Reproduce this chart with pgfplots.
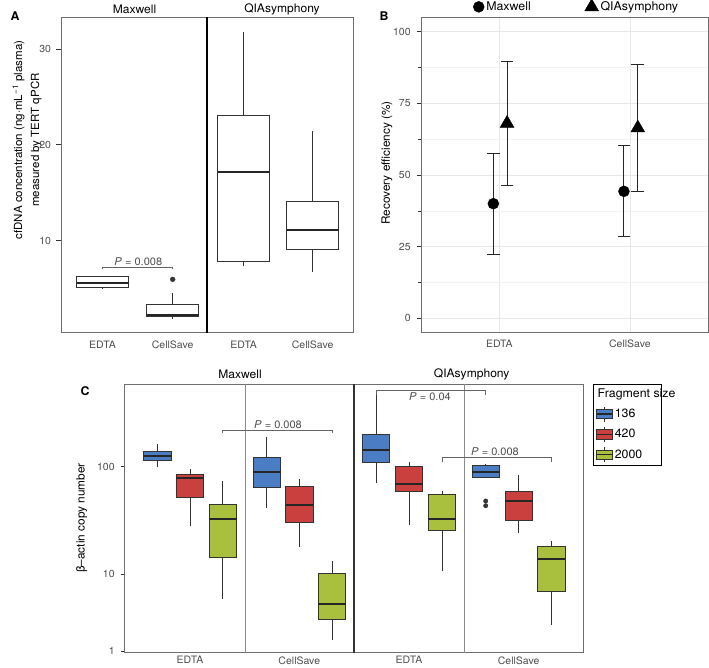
\documentclass[border=0pt]{standalone}
\usepackage{fontspec}
\setmainfont{TeX Gyre Heros}[FakeStretch=1.03]
\usepackage{pgfplots}
\pgfplotsset{compat=1.18}
\definecolor{c136}{RGB}{74,125,196}
\definecolor{c420}{RGB}{201,64,62}
\definecolor{c2000}{RGB}{168,192,62}
\definecolor{framec}{RGB}{110,110,110}
\definecolor{boxline}{RGB}{51,51,51}
\definecolor{ticktext}{RGB}{77,77,77}
\definecolor{brk}{RGB}{100,100,100}

% color, x left, x right, x centre, lower whisker, Q1, median, Q3, upper whisker
\newcommand{\ggbox}[9]{%
 \addplot[forget plot, draw=boxline, line width=0.8pt] coordinates {(#4,#6) (#4,#5)};
 \addplot[forget plot, draw=boxline, line width=0.8pt] coordinates {(#4,#8) (#4,#9)};
 \addplot[forget plot, draw=boxline, fill=#1, line width=0.8pt] coordinates {(#2,#6) (#3,#6) (#3,#8) (#2,#8)} -- cycle;
 \addplot[forget plot, draw=black!85, line width=1.9pt] coordinates {(#2,#7) (#3,#7)};
}
\newcommand{\keyimage}[1]{%
 \addlegendimage{legend image code/.code={%
  \draw[fill=#1, draw=boxline, line width=0.8pt] (0pt,-4.7pt) rectangle (15.7pt,4.7pt);
  \draw[black!85, line width=1.3pt] (0pt,0pt) -- (15.7pt,0pt);
  \draw[boxline, line width=0.8pt] (7.85pt,4.7pt) -- (7.85pt,7.5pt) (7.85pt,-4.7pt) -- (7.85pt,-7.5pt);}}%
}

\pgfplotsset{
 ggaxis/.style={
  scale only axis,
  anchor=north west,
  axis line style={framec, line width=0.7pt},
  tick style={boxline, line width=0.6pt},
  tick align=outside,
  ytick pos=left,
  xtick style={draw=none},
  tick label style={font=\fontsize{10.2}{12}\selectfont, text=ticktext},
  /pgf/number format/assume math mode=true,
 },
}

\begin{document}
\begin{tikzpicture}[x=1pt,y=1pt]
\useasboundingbox (0pt,0pt) rectangle (709pt,-667pt);

% ---------------- Panel A ----------------
\begin{axis}[ggaxis,
  at={(61pt,-17.3pt)},
  width=292.3pt, height=315.4pt,
  xmin=61, xmax=353.3, ymin=0.37, ymax=33.3,
  major tick length=5pt,
  xtick={102.5,172.7,243.7,312.7},
  xticklabels={EDTA,CellSave,EDTA,CellSave},
  xticklabel style={yshift=0.5pt},
  ytick={10,20,30},
  yticklabel style={xshift=-1.5pt},
]
\addplot[forget plot, black, line width=1.1pt] coordinates {(207,0.37) (207,33.3)};
\ggbox{white}{76.5}{128.5}{102.5}{4.9}{5.06}{5.58}{6.2}{6.3}
\ggbox{white}{146.7}{198.7}{172.7}{1.77}{2.08}{2.25}{3.36}{4.54}
\ggbox{white}{217.7}{269.7}{243.7}{7.35}{7.77}{17.15}{23.1}{31.8}
\ggbox{white}{286.7}{338.7}{312.7}{6.73}{9.02}{11.1}{14.13}{21.4}
\addplot[forget plot, only marks, mark=*, mark size=2.4pt, boxline] coordinates {(172.7,5.94)};
\addplot[forget plot, brk, line width=0.6pt] coordinates {(102.5,6.98) (102.5,7.25) (172.7,7.25) (172.7,6.98)};
\node[text=ticktext, font=\fontsize{10.7}{12}\selectfont] at (axis cs:138.3,7.8) {\textit{P} = 0.008};
\end{axis}

% ---------------- Panel B ----------------
\begin{axis}[ggaxis,
  at={(421pt,-17.3pt)},
  width=287.3pt, height=315.4pt,
  xmin=0.4, xmax=2.6, ymin=-5, ymax=105,
  major tick length=4.3pt,
  xtick={1,2}, xticklabels={EDTA,CellSave},
  xticklabel style={yshift=0.5pt},
  ytick={0,25,50,75,100},
  minor ytick={12.5,37.5,62.5,87.5},
  yticklabel style={xshift=-2.5pt},
  ymajorgrids, yminorgrids, xmajorgrids,
  major grid style={color=black!9, line width=0.7pt},
  minor grid style={color=black!5, line width=0.5pt},
  legend columns=2,
  legend style={draw=none, fill=none, at={(0.5,1)}, anchor=south, xshift=12pt, yshift=1pt,
    font=\fontsize{12}{13}\selectfont,
    /tikz/every even column/.append style={column sep=52pt}},
  legend image code/.code={\draw[#1] plot coordinates {(0pt,0pt)};},
]
\addplot[black, only marks, mark=*, mark size=5.5pt,
  error bars/.cd, y dir=both, y explicit, error mark=|,
  error bar style={line width=0.9pt, black!85},
  error mark options={line width=0.9pt, black!85, mark size=6.3pt}]
  coordinates {(0.954,40.0) +- (0,17.6) (1.954,44.3) +- (0,15.9)};
\addlegendentry{Maxwell}
\addplot[black, only marks, mark=triangle*, mark size=8pt,
  error bars/.cd, y dir=both, y explicit, error mark=|,
  error bar style={line width=0.9pt, black!85},
  error mark options={line width=0.9pt, black!85, mark size=6.3pt}]
  coordinates {(1.059,68.0) +- (0,21.6) (2.060,66.4) +- (0,22.3)};
\addlegendentry{QIAsymphony}
\end{axis}

% ---------------- Panel C ----------------
\begin{axis}[ggaxis,
  at={(124.5pt,-384pt)},
  width=459pt, height=268.7pt,
  xmin=124.5, xmax=583.5, ymin=0.951, ymax=589.7,
  y coord trafo/.code={\pgfmathparse{(#1<10)?(1-0.7176*(1-ln(#1)/2.302585)):(ln(#1)/2.302585)}},
  y coord inv trafo/.code={\pgfmathparse{(#1<1)?(exp(2.302585*(1-(1-#1)/0.7176))):(exp(2.302585*#1))}},
  major tick length=3.3pt,
  ytick={1,10,100}, yticklabels={1,10,100},
  yticklabel style={xshift=-3pt},
  xtick={190,299.3,409,518.7},
  xticklabels={EDTA,CellSave,EDTA,CellSave},
  xticklabel style={yshift=3pt},
  legend cell align=left,
  legend style={at={(1,1)}, anchor=north west, xshift=9.3pt,
    draw=black, line width=1.1pt, fill=white,
    font=\fontsize{12}{13}\selectfont, row sep=4.5pt, inner sep=2.5pt},
]
\addplot[forget plot, framec!80, line width=0.6pt] coordinates {(245.7,0.951) (245.7,589.7)};
\addplot[forget plot, black!80, line width=1.1pt] coordinates {(354,0.951) (354,589.7)};
\addplot[forget plot, framec!80, line width=0.6pt] coordinates {(464.5,0.951) (464.5,589.7)};
% Maxwell EDTA
\ggbox{c136}{143.5}{171.1}{157.3}{100}{113.7}{126.6}{139.2}{162.7}
\ggbox{c420}{176.2}{203.8}{190}{28.2}{52.2}{79.0}{84.9}{95.2}
\ggbox{c2000}{208.9}{236.5}{222.7}{4.69}{14.2}{32.8}{44.6}{73.6}
% Maxwell CellSave
\ggbox{c136}{252.9}{280.5}{266.7}{41.5}{63.7}{89.2}{122.4}{190.4}
\ggbox{c420}{285.5}{313.1}{299.3}{17.96}{30.3}{44.0}{66.1}{76.3}
\ggbox{c2000}{318.2}{345.8}{332}{1.39}{2.58}{4.11}{10.06}{13.2}
% QIAsymphony EDTA
\ggbox{c136}{362.2}{389.8}{376}{70.0}{109.9}{143.1}{200.4}{465.8}
\ggbox{c420}{395.2}{422.8}{409}{28.6}{58.5}{69.4}{101.5}{109.9}
\ggbox{c2000}{428.2}{455.8}{442}{10.67}{25.3}{32.3}{55.3}{59.8}
% QIAsymphony CellSave
\ggbox{c136}{471.9}{499.5}{485.7}{80.2}{80.2}{89.8}{103.1}{105.3}
\ggbox{c420}{504.9}{532.5}{518.7}{23.9}{31.4}{48.2}{58.5}{83.2}
\ggbox{c2000}{537.5}{565.1}{551.3}{2.20}{6.01}{13.7}{18.2}{20.4}
\addplot[forget plot, only marks, mark=*, mark size=2.2pt, boxline] coordinates {(485.7,47.9) (485.7,43.3)};
% brackets
\addplot[forget plot, brk, line width=0.6pt] coordinates {(222.7,204.6) (222.7,219.8) (332,219.8) (332,204.6)};
\addplot[forget plot, brk, line width=0.6pt] coordinates {(376,461) (376,513) (485,513) (485,461)};
\addplot[forget plot, brk, line width=0.6pt] coordinates {(442,109.9) (442,122.4) (551.3,122.4) (551.3,109.9)};
\node[text=ticktext, font=\fontsize{10.7}{12}\selectfont] at (axis cs:278,248) {\textit{P} = 0.008};
\node[text=ticktext, font=\fontsize{10.7}{12}\selectfont] at (axis cs:430,449) {\textit{P} = 0.04};
\node[text=ticktext, font=\fontsize{10.7}{12}\selectfont] at (axis cs:495,138) {\textit{P} = 0.008};
% legend (title row is left blank here; the title is set above it)
\addlegendimage{empty legend}
\addlegendentry{\strut\hspace*{42pt}}
\keyimage{c136}
\addlegendentry{136}
\keyimage{c420}
\addlegendentry{420}
\keyimage{c2000}
\addlegendentry{2000}
\end{axis}

% ---------------- labels ----------------
\node[anchor=west, inner sep=0pt, font=\fontsize{12}{13}\selectfont] at (597.5pt,-394.7pt) {Fragment size};
\node[font=\bfseries\fontsize{12}{14}\selectfont] at (15pt,-16pt) {A};
\node[font=\bfseries\fontsize{12}{14}\selectfont] at (384pt,-15.7pt) {B};
\node[font=\bfseries\fontsize{12}{14}\selectfont] at (85pt,-390.7pt) {C};
\node[font=\fontsize{11.7}{13}\selectfont] at (134.5pt,-9.3pt) {Maxwell};
\node[font=\fontsize{11.7}{13}\selectfont] at (282pt,-9.3pt) {QIAsymphony};
\node[font=\fontsize{11.7}{13}\selectfont] at (240pt,-374.3pt) {Maxwell};
\node[font=\fontsize{11.7}{13}\selectfont] at (471.7pt,-374.3pt) {QIAsymphony};
\node[rotate=90, align=center, font=\fontsize{11.2}{17}\selectfont] at (27pt,-140pt) {cfDNA concentration (ng·mL\textsuperscript{−1} plasma)\\measured by TERT qPCR};
\node[rotate=90, font=\fontsize{11.5}{13}\selectfont] at (387pt,-163pt) {Recovery efficiency (\%)};
\node[rotate=90, font=\fontsize{11.5}{13}\selectfont] at (81.7pt,-518pt) {β–actin copy number};
\end{tikzpicture}
\end{document}
